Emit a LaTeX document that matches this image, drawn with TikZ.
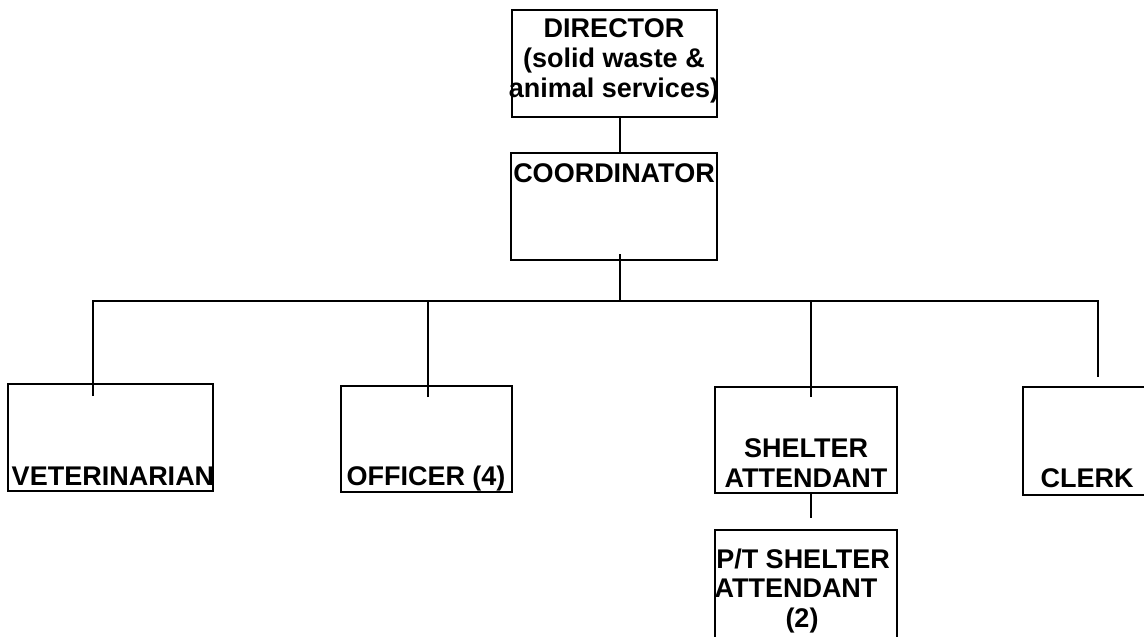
\documentclass[tikz,border=0pt]{standalone}
\usepackage{fontspec}
\setmainfont{Liberation Sans}
\begin{document}
\begin{tikzpicture}[x=1pt,y=-1pt,
  box/.style={draw, line width=1.8pt, inner sep=0pt, outer sep=0pt, rectangle},
  lbl/.style={anchor=base, inner sep=0pt, font=\fontsize{27}{30}\selectfont\bfseries},
  link/.style={line width=1.8pt}]
\useasboundingbox (0,0) rectangle (1144,637);
\fill[white] (0,0) rectangle (1144,637);

% boxes
\node[box, minimum width=205pt, minimum height=107pt] (dir)   at (614.5,63.5) {};
\node[box, minimum width=206pt, minimum height=107pt] (coord) at (614,206.5) {};
\node[box, minimum width=205pt, minimum height=107pt] (vet)   at (110.5,437.5) {};
\node[box, minimum width=171pt, minimum height=106pt] (off)   at (426.5,439) {};
\node[box, minimum width=182pt, minimum height=106pt] (shel)  at (806,440) {};
\node[box, minimum width=182pt, minimum height=120pt] (pt)    at (806,590) {};
\node[box, minimum width=140pt, minimum height=108pt] (clerk) at (1093,441) {};

% labels
\node[lbl] (tdir1) at (614,37) {DIRECTOR};
\node[lbl] (tdir2) at (614,67) {(solid waste \&};
\node[lbl] (tdir3) at (614,97) {animal services)};
\node[lbl] (tcoord) at (614,182) {COORDINATOR};
\node[lbl] (tvet) at (113,485) {VETERINARIAN};
\node[lbl] (toff) at (426,485) {OFFICER (4)};
\node[lbl] (tsh1) at (806,457) {SHELTER};
\node[lbl] (tsh2) at (806,487) {ATTENDANT};
\node[lbl] (tpt1) at (803,568) {P/T SHELTER};
\node[lbl] (tpt2) at (796,597) {ATTENDANT};
\node[lbl] (tpt3) at (802,627) {(2)};
\node[lbl] (tclerk) at (1087,487) {CLERK};

% connectors
\coordinate (bus) at (620,301);
\draw[link] ([xshift=5.5pt]dir.south) -- ([xshift=6pt]coord.north);
\draw[link] ([xshift=6pt,yshift=6pt]coord.south) -- (bus);
\draw[link] ([xshift=-17.5pt,yshift=-12pt]vet.north) |- (bus)
  -| ([xshift=5pt,yshift=10pt]clerk.north);
\draw[link] ([xshift=1.5pt,yshift=-11pt]off.north) |- (bus);
\draw[link] ([xshift=5pt,yshift=-10pt]shel.north) |- (bus);
\draw[link] ([xshift=5pt]shel.south) -- ([xshift=5pt,yshift=12pt]pt.north);
\end{tikzpicture}
\end{document}
